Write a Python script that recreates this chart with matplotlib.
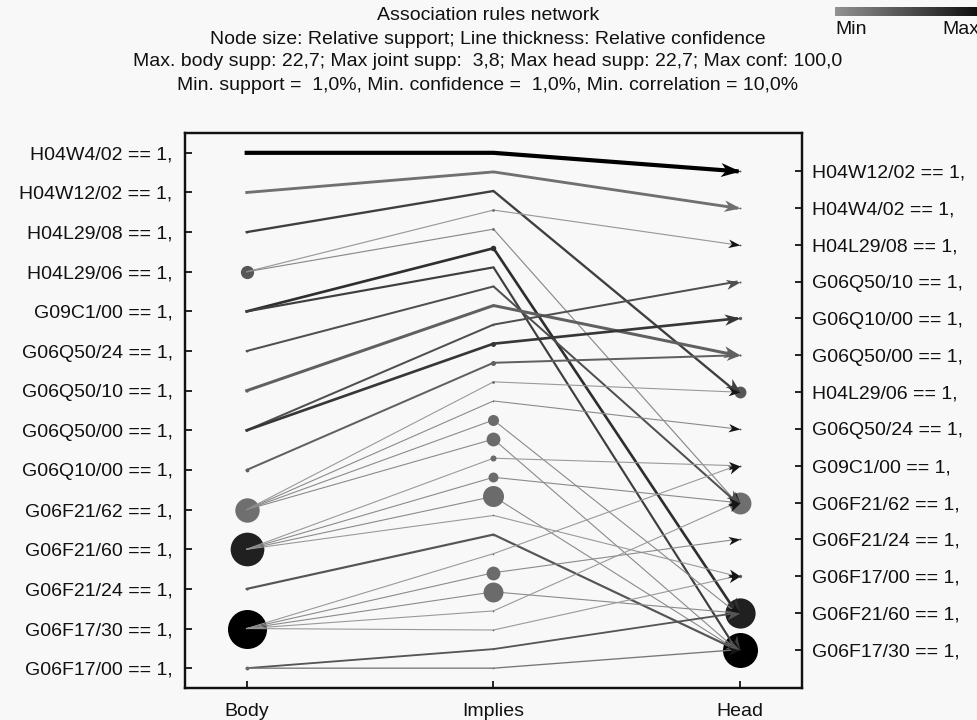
import matplotlib
matplotlib.use("Agg")
import matplotlib.pyplot as plt
import numpy as np
from matplotlib.markers import MarkerStyle
from matplotlib.path import Path
from matplotlib.transforms import Affine2D

plt.rcParams['font.family'] = ['Liberation Sans', 'DejaVu Sans']

# --- data ---
body_labels = ["H04W4/02", "H04W12/02", "H04L29/08", "H04L29/06", "G09C1/00",
               "G06Q50/24", "G06Q50/10", "G06Q50/00", "G06Q10/00", "G06F21/62",
               "G06F21/60", "G06F21/24", "G06F17/30", "G06F17/00"]
body_supp = [1.2, 1.2, 1.2, 7.7, 1.3, 1.2, 1.3, 1.4, 2.2, 14.2, 19.6, 1.3, 22.7, 2.2]
body_level = [0.4, 0.4, 0.4, 0.45, 0.4, 0.4, 0.4, 0.4, 0.4, 0.3, 0.8, 0.4, 1.0, 0.4]

head_labels = ["H04W12/02", "H04W4/02", "H04L29/08", "G06Q50/10", "G06Q10/00",
               "G06Q50/00", "H04L29/06", "G06Q50/24", "G09C1/00", "G06F21/62",
               "G06F21/24", "G06F17/00", "G06F21/60", "G06F17/30"]
head_supp = [1.2, 1.2, 1.2, 1.3, 2.2, 1.4, 7.7, 1.2, 1.3, 14.2, 1.3, 2.2, 19.6, 22.7]
head_level = [0.4, 0.4, 0.4, 0.4, 0.4, 0.4, 0.45, 0.4, 0.4, 0.3, 0.4, 0.4, 0.8, 1.0]

# one entry per rule (ordered as the "Implies" nodes, top to bottom)
rule_body = [0, 1, 2, 3, 3, 4, 4, 5, 6, 7, 7, 8, 9, 9, 9, 9,
             10, 10, 10, 10, 11, 12, 12, 12, 12, 12, 13, 13]
rule_head = [0, 1, 6, 2, 9, 12, 13, 9, 5, 3, 4, 5, 6, 7, 12, 13,
             8, 9, 13, 11, 13, 8, 10, 12, 9, 11, 12, 13]
rule_conf = [100, 60, 45, 10, 10, 55, 40, 35, 65, 35, 55, 35, 8, 8, 8, 8,
             8, 8, 8, 8, 40, 8, 8, 8, 8, 8, 30, 15]
rule_level = [1.0, 0.29, 0.6, 0.03, 0.13, 0.7, 0.6, 0.5, 0.39, 0.5, 0.65, 0.39,
              0.03, 0.13, 0.13, 0.13, 0.03, 0.13, 0.13, 0.03, 0.46, 0.03, 0.13,
              0.13, 0.03, 0.03, 0.46, 0.25]
joint_supp = [0.3, 0.3, 0.3, 0.5, 0.5, 1.0, 0.3, 0.3, 0.3, 0.3, 0.9, 0.9,
              0.5, 0.3, 2.0, 2.5, 1.1, 1.8, 3.8, 0.3, 0.3, 0.3, 2.5, 3.6,
              0.3, 0.3, 0.3, 0.3]

titles = ["Association rules network",
          "Node size: Relative support; Line thickness: Relative confidence",
          "Max. body supp: 22,7; Max joint supp:  3,8; Max head supp: 22,7; Max conf: 100,0",
          "Min. support =  1,0%, Min. confidence =  1,0%, Min. correlation = 10,0%"]
columns = ["Body", "Implies", "Head"]


def shade(level):
    g = 0.62 * (1 - level)
    return (g, g, g)


bg = '#f8f8f8'
fig = plt.figure(figsize=(9.78, 7.2), dpi=100, facecolor=bg)
ax = fig.add_axes([185 / 978, 1 - 688 / 720, 617 / 978, 555 / 720], facecolor=bg)
n_b = len(body_labels)
n_r = len(rule_body)
body_y = np.arange(n_b)
head_y = (np.arange(len(head_labels)) + 0.5) * (n_b - 1) / len(head_labels)
mid_y = np.arange(n_r) * (n_b - 1) / (n_r - 1)
ax.set_xlim(0.75, 3.25)
ax.set_ylim(n_b - 0.5, -0.5)

# body and head nodes
for i in range(n_b):
    d = 39 * body_supp[i] / 22.7 * 0.72
    ax.plot(1, body_y[i], 'o', ms=d, color=shade(body_level[i]), mec='none', zorder=2)
for j in range(len(head_labels)):
    d = 35 * head_supp[j] / 22.7 * 0.72
    ax.plot(3, head_y[j], 'o', ms=d, color=shade(head_level[j]), mec='none', zorder=2)

arrow_path = Path([(0, 0), (-1, 0.36), (-0.72, 0), (-1, -0.36), (0, 0)],
                  [Path.MOVETO, Path.LINETO, Path.LINETO, Path.LINETO, Path.CLOSEPOLY])

for k in range(n_r):
    b = rule_body[k]
    h = rule_head[k]
    lw = 0.6 + 2.4 * rule_conf[k] / 100
    col = shade(rule_level[k])
    ax.plot([1, 2, 2.985], [body_y[b], mid_y[k], head_y[h]], color=col, lw=lw,
            solid_joinstyle='miter', zorder=3)
    g = min(col[0], 0.42)
    d = 21 * joint_supp[k] / 3.8 * 0.72
    ax.plot(2, mid_y[k], 'o', ms=d, color=(g, g, g), mec='none', zorder=4)
    p0 = ax.transData.transform((2, mid_y[k]))
    p1 = ax.transData.transform((3, head_y[h]))
    ang = np.degrees(np.arctan2(p1[1] - p0[1], p1[0] - p0[0]))
    mk = MarkerStyle(arrow_path, transform=Affine2D().rotate_deg(ang))
    acol = col if lw >= 1.3 else '#151515'
    ax.plot(3, head_y[h], marker=mk, ms=13 + 5 * lw, color=acol, mec='none',
            ls='none', zorder=5)

ax.set_yticks(body_y)
ax.set_yticklabels([s + " == 1," for s in body_labels])
ax.set_xticks([1, 2, 3])
ax.set_xticklabels(columns)

ax2 = ax.twinx()
ax2.set_ylim(n_b - 0.5, -0.5)
ax2.set_yticks(head_y)
ax2.set_yticklabels([s + " == 1," for s in head_labels])

ax.tick_params(axis='y', which='both', direction='in', length=5, width=1.2, pad=9,
               labelsize=14, labelcolor='#111111')
ax.tick_params(axis='x', direction='in', length=5, width=1.2, pad=11,
               labelsize=14, labelcolor='#111111')
ax2.tick_params(axis='y', which='both', direction='in', length=5, width=1.2, pad=7,
                labelsize=14, labelcolor='#111111')
for a in (ax, ax2):
    for sp in a.spines.values():
        sp.set_linewidth(1.6)
        sp.set_color('#111111')

for t, y in zip(titles, [15, 39, 62, 86]):
    fig.text(0.499, 1 - y / 720, t, ha='center', va='center', fontsize=14,
             color='#111111')

# Min / Max shade strip
cax = fig.add_axes([835 / 978, 1 - 16 / 720, 160 / 978, 9 / 720])
grad = np.linspace(0, 1, 120)[None, :]
cax.imshow(grad, aspect='auto', cmap='gray_r', vmin=-0.75, vmax=1.0)
cax.set_axis_off()
fig.text(835 / 978, 1 - 29 / 720, "Min", ha='left', va='center', fontsize=14,
         color='#111111')
fig.text(942 / 978, 1 - 29 / 720, "Max", ha='left', va='center', fontsize=14,
         color='#111111')

fig.savefig("out.png", dpi=100, facecolor=bg)
